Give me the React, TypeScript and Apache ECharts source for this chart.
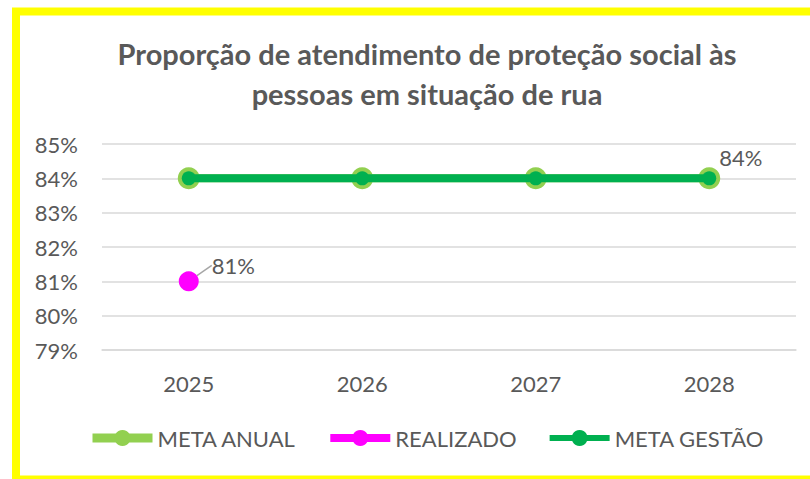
import React, { useEffect, useRef } from "react";
import * as echarts from "echarts";

const categories = ["2025", "2026", "2027", "2028"];
const metaAnual = [84, 84, 84, 84];
const realizado: (number | null)[] = [81, null, null, null];
const metaGestao = [84, 84, 84, 84];
const titleText = "Proporção de atendimento de proteção social às\npessoas em situação de rua";

const FONT = '"Liberation Sans Narrow", Lato, sans-serif';
const GRAY = "#595959";

export default function App() {
  const ref = useRef<HTMLDivElement>(null);
  useEffect(() => {
    const chart = echarts.init(ref.current!, null, { renderer: "svg" });
    chart.setOption({
      animation: false,
      backgroundColor: "#ffffff",
      textStyle: { fontFamily: FONT },
      title: {
        text: titleText,
        left: 422,
        textAlign: "center",
        top: 28,
        textStyle: { fontFamily: FONT, fontSize: 29, fontWeight: "bold", color: GRAY, lineHeight: 40 },
      },
      graphic: [
        {
          type: "rect",
          shape: { x: 16, y: 11.5, width: 820, height: 468 },
          style: { fill: "none", stroke: "#FFFF00", lineWidth: 8 },
          silent: true,
        },
      ],
      legend: {
        bottom: 25,
        left: 83,
        itemWidth: 60,
        itemHeight: 20,
        itemGap: 30,
        textStyle: { fontFamily: FONT, fontSize: 22, color: GRAY },
        data: [
          { name: "META ANUAL", lineStyle: { width: 9 } },
          { name: "REALIZADO", lineStyle: { width: 8 } },
          { name: "META GESTÃO", lineStyle: { width: 6 } },
        ],
      },
      grid: { left: 102, right: 14, top: 144, bottom: 129 },
      xAxis: {
        type: "category",
        data: categories,
        boundaryGap: true,
        axisLine: { show: true, lineStyle: { color: "#D9D9D9", width: 1.5 } },
        axisTick: { show: false },
        axisLabel: { fontFamily: FONT, fontSize: 22, color: GRAY, margin: 22 },
      },
      yAxis: {
        type: "value",
        min: 79,
        max: 85,
        interval: 1,
        axisLine: { show: false },
        axisTick: { show: false },
        axisLabel: { fontFamily: FONT, fontSize: 22, color: GRAY, margin: 24, formatter: "{value}%" },
        splitLine: { lineStyle: { color: "#D9D9D9", width: 1.5 } },
      },
      series: [
        {
          name: "META ANUAL",
          type: "line",
          data: metaAnual,
          symbol: "circle",
          symbolSize: 22,
          itemStyle: { color: "#92D050" },
          lineStyle: { color: "#92D050", width: 8 },
          z: 2,
        },
        {
          name: "REALIZADO",
          type: "line",
          data: realizado,
          symbol: "circle",
          symbolSize: 20,
          itemStyle: { color: "#FF00FF" },
          lineStyle: { color: "#FF00FF", width: 8 },
          label: {
            show: true,
            position: "right",
            formatter: (p: any) => p.value + "%",
            fontFamily: FONT,
            fontSize: 22,
            color: GRAY,
          },
          labelLayout: { dx: 8, dy: -16 },
          labelLine: { show: true, lineStyle: { color: "#A6A6A6", width: 1.5 } },
          z: 3,
        },
        {
          name: "META GESTÃO",
          type: "line",
          data: metaGestao,
          symbol: "circle",
          symbolSize: 14,
          itemStyle: { color: "#00B050" },
          lineStyle: { color: "#00B050", width: 8 },
          label: {
            show: true,
            position: "right",
            offset: [-2, -21],
            formatter: (p: any) => (p.dataIndex === metaGestao.length - 1 ? p.value + "%" : ""),
            fontFamily: FONT,
            fontSize: 22,
            color: GRAY,
          },
          z: 4,
        },
      ],
    });
    return () => chart.dispose();
  }, []);
  return (
    <div
      ref={ref}
      style={{ position: "fixed", left: 0, top: 0, width: 810, height: 479, background: "#fff" }}
    />
  );
}
